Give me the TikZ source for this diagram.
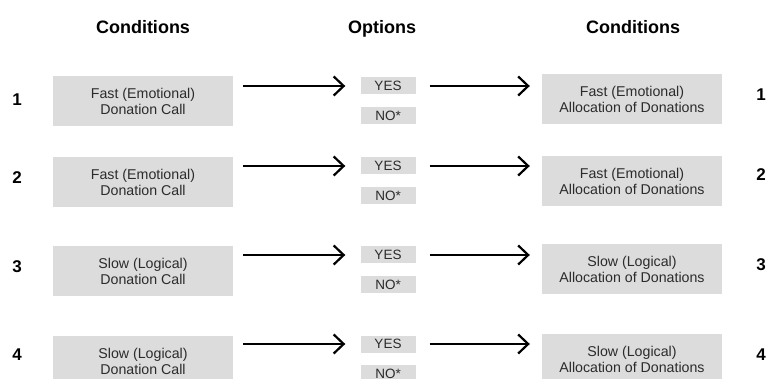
\documentclass[tikz,border=0pt]{standalone}
\usepackage{fontspec}
\setmainfont{Liberation Sans}
\usetikzlibrary{arrows.meta,positioning}

\definecolor{boxgray}{HTML}{DCDCDC}
\definecolor{textgray}{HTML}{2B2B2B}

\begin{document}
\begin{tikzpicture}[x=1pt,y=-1pt,>={Straight Barb[length=10pt,width=19pt]},auto,node distance=12pt,
    cond/.style={fill=boxgray,minimum width=180pt,minimum height=50pt,align=center,
                 font=\fontsize{14.2}{16}\selectfont,text=textgray},
    opt/.style={fill=boxgray,minimum width=55pt,minimum height=17pt,inner sep=0pt,
                font=\fontsize{13.5}{15}\selectfont,text=textgray},
    head/.style={anchor=base,font=\fontsize{18}{20}\selectfont\bfseries},
    num/.style={font=\fontsize{17}{20}\selectfont\bfseries}]

            \useasboundingbox (0,0) rectangle (768,379);
            \clip (0,0) rectangle (768,379);

            \node[head] (hleft) at (143,34) {Conditions};
            \node[head] (hmid) at (382,34) {Options};
            \node[head] (hright) at (633,34) {Conditions};

            % row 1
            \node[cond] (c1) at (143,101) {Fast (Emotional)\\Donation Call};
            \node[opt] (yes1) at (388,86) {YES};
            \node[opt] (no1) [below=of yes1] {NO*};
            \node[cond] (a1) at (632,99) {Fast (Emotional)\\Allocation of Donations};
            \node[num] (l1) at (17,100) {1};
            \node[num] (r1) at (761,95) {1};

            % row 2
            \node[cond] (c2) at (143,182.5) {Fast (Emotional)\\Donation Call};
            \node[opt] (yes2) at (388,166) {YES};
            \node[opt] (no2) [below=of yes2] {NO*};
            \node[cond] (a2) at (632,181) {Fast (Emotional)\\Allocation of Donations};
            \node[num] (l2) at (17,178) {2};
            \node[num] (r2) at (761,175) {2};

            % row 3
            \node[cond] (c3) at (143,271) {Slow (Logical)\\Donation Call};
            \node[opt] (yes3) at (388,255) {YES};
            \node[opt] (no3) [below=of yes3] {NO*};
            \node[cond] (a3) at (632,269) {Slow (Logical)\\Allocation of Donations};
            \node[num] (l3) at (17,267) {3};
            \node[num] (r3) at (761,265) {3};

            % row 4
            \node[cond] (c4) at (143,361) {Slow (Logical)\\Donation Call};
            \node[opt] (yes4) at (388,344) {YES};
            \node[opt] (no4) [below=of yes4] {NO*};
            \node[cond] (a4) at (632,359) {Slow (Logical)\\Allocation of Donations};
            \node[num] (l4) at (17,355) {4};
            \node[num] (r4) at (761,355) {4};

            \path[->,line width=2.2pt,shorten <=10pt,shorten >=15pt]
                      (c1.east |- yes1) edge (yes1)
                      (c2.east |- yes2) edge (yes2)
                      (c3.east |- yes3) edge (yes3)
                      (c4.east |- yes4) edge (yes4);

            \path[->,line width=2.2pt,shorten <=14pt,shorten >=12pt]
                      (yes1) edge (a1.west |- yes1)
                      (yes2) edge (a2.west |- yes2)
                      (yes3) edge (a3.west |- yes3)
                      (yes4) edge (a4.west |- yes4);

        \end{tikzpicture}
\end{document}
